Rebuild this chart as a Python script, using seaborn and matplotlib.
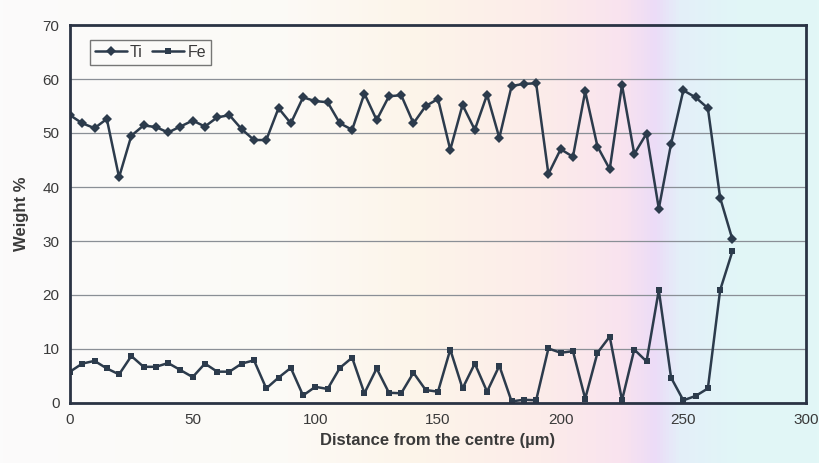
import numpy as np
import pandas as pd
import matplotlib
matplotlib.use("Agg")
import matplotlib.pyplot as plt
from matplotlib.colors import LinearSegmentedColormap
import seaborn as sns

distance = list(range(0, 275, 5))
ti = [53.3, 51.8, 50.9, 52.6, 41.8, 49.5, 51.4, 51.1, 50.1, 51.2,
      52.3, 51.2, 52.9, 53.3, 50.7, 48.7, 48.7, 54.6, 51.8, 56.6,
      55.9, 55.7, 51.8, 50.6, 57.3, 52.4, 56.8, 57.0, 51.8, 55.0,
      56.3, 46.9, 55.2, 50.6, 57.1, 49.1, 58.7, 59.1, 59.2, 42.4,
      47.0, 45.6, 57.7, 47.5, 43.3, 58.9, 46.1, 49.9, 36.0, 48.0,
      57.9, 56.6, 54.6, 38.0, 30.3]
fe = [5.8, 7.3, 7.8, 6.4, 5.3, 8.7, 6.7, 6.7, 7.4, 6.1,
      4.8, 7.3, 5.8, 5.8, 7.3, 7.9, 2.7, 4.7, 6.5, 1.4,
      3.0, 2.6, 6.5, 8.4, 1.8, 6.4, 1.9, 1.8, 5.6, 2.4,
      2.1, 9.9, 2.7, 7.3, 2.1, 6.9, 0.3, 0.6, 0.5, 10.1,
      9.3, 9.6, 0.8, 9.3, 12.3, 0.5, 9.9, 7.7, 20.9, 4.7,
      0.5, 1.3, 2.7, 20.9, 28.1]
x_ticks = [0, 50, 100, 150, 200, 250, 300]
y_ticks = [0, 10, 20, 30, 40, 50, 60, 70]

sns.set_theme(style="white")
plt.rcParams['font.family'] = ['Liberation Sans', 'DejaVu Sans']

line_col = "#2c3b4c"
text_col = "#3a3a3a"

fig = plt.figure(figsize=(8.2, 4.63), dpi=100)

# scanned-paper background tint
bg = fig.add_axes([0, 0, 1, 1], zorder=-10)
cmap = LinearSegmentedColormap.from_list("bg", [
    (0.00, "#fbfbfb"), (0.35, "#fcfaf6"), (0.50, "#fdf5ea"),
    (0.66, "#fcece9"), (0.76, "#f9e3ef"), (0.80, "#ecdcf7"),
    (0.83, "#e4eff9"), (0.90, "#e1f6f7"), (1.00, "#e2f7f6")])
bg.imshow(np.linspace(0, 1, 256)[None, :], aspect="auto", cmap=cmap,
          extent=[0, 1, 0, 1])
bg.set_axis_off()

ax = fig.add_axes([70/820, 1-403/463, (806-70)/820, (403-25)/463])
ax.patch.set_alpha(0)

df = pd.DataFrame({"Distance": distance, "Ti": ti, "Fe": fe})
sns.lineplot(data=df, x="Distance", y="Ti", ax=ax, color=line_col,
             marker="D", markersize=5, linewidth=1.8, markeredgewidth=0,
             label="Ti")
sns.lineplot(data=df, x="Distance", y="Fe", ax=ax, color=line_col,
             marker="s", markersize=4.5, linewidth=1.8, markeredgewidth=0,
             label="Fe")

ax.set_xlim(0, 300)
ax.set_ylim(0, 70)
ax.set_xticks(x_ticks)
ax.set_yticks(y_ticks)
ax.yaxis.grid(True, color="#8a8f96", linewidth=0.9)
ax.xaxis.grid(False)
for s in ax.spines.values():
    s.set_color("#2a3344")
    s.set_linewidth(2)
ax.tick_params(axis="both", direction="out", length=4, width=1,
               colors="#2a3344", labelcolor=text_col, labelsize=11)
ax.set_xlabel("Distance from the centre (µm)", fontsize=12, fontweight="bold",
              color=text_col, labelpad=4)
ax.set_ylabel("Weight %", fontsize=12, fontweight="bold", color=text_col,
              labelpad=10)

leg = ax.legend(loc="upper left", bbox_to_anchor=(0.027, 0.96), ncol=2,
                frameon=True, fancybox=False, fontsize=11.5,
                handlelength=2.0, handletextpad=0.2, columnspacing=0.6,
                borderpad=0.3, borderaxespad=0)
leg.get_frame().set_edgecolor("#555555")
leg.get_frame().set_linewidth(1)
leg.get_frame().set_facecolor("none")
for t in leg.get_texts():
    t.set_color(text_col)

fig.savefig("out.png", dpi=100)
